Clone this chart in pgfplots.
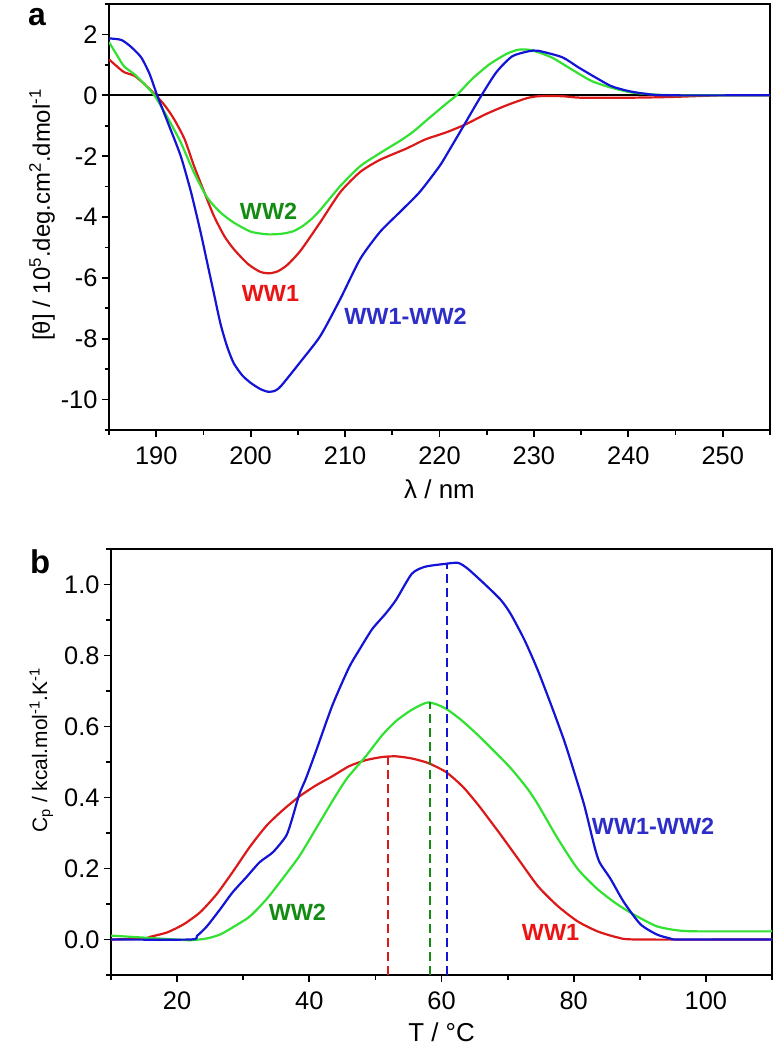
\documentclass[border=0pt]{standalone}
\usepackage{fontspec}
\setmainfont{Liberation Sans}
\usepackage{pgfplots}
\pgfplotsset{compat=1.18}
\definecolor{cgreen}{RGB}{50,225,50}
\definecolor{cred}{RGB}{220,25,25}
\definecolor{cblue}{RGB}{20,20,215}
\definecolor{lgreen}{RGB}{20,140,20}
\definecolor{lred}{RGB}{235,20,20}
\definecolor{lblue}{RGB}{45,45,200}
\tikzset{lab/.style={font=\bfseries\fontsize{23.5}{26}\selectfont}}
\begin{document}
\begin{tikzpicture}
\useasboundingbox (0bp,0bp) rectangle (784bp,-1050bp);
\pgfplotsset{
  every axis/.append style={
    scale only axis, width=661bp, height=426bp,
    axis line style={line width=2.6bp},
    tick style={line width=1.8bp, black},
    tick align=outside, tick pos=left,
    major tick length=7bp, minor tick length=4.5bp,
    tick label style={font=\fontsize{25.5}{28}\selectfont},
    xticklabel style={yshift=-6bp},
    yticklabel style={xshift=-1bp},
    /pgf/number format/assume math mode=true,
    label style={font=\fontsize{26}{30}\selectfont},
  },
  curve/.style={line width=2.2bp, no marks, smooth, tension=0.4},
}
% ---------- panel a ----------
\begin{axis}[at={(109bp,-430bp)}, anchor=south west,
  xmin=185, xmax=255, ymin=-11, ymax=3,
  xtick={190,200,...,250}, minor xtick={185,195,...,255},
  ytick={-10,-8,...,2}, minor ytick={-11,-9,...,3},
  xlabel={λ / nm},
  xlabel style={at={(axis description cs:0.5,-0.138)}, anchor=center},
  ylabel={[θ] / 10\textsuperscript{5}.deg.cm\textsuperscript{2}.dmol\textsuperscript{-1}},
  ylabel style={at={(axis description cs:-0.0893,0.505)}, anchor=base, font=\fontsize{24}{28}\selectfont},
]
\addplot[black, line width=2bp] coordinates {(185,0) (255,0)};
% WW1 (red)
\addplot[curve, cred] coordinates {
(185,1.18) (185.8,0.96) (186.6,0.76) (187.7,0.64) (188.7,0.38) (189.8,0.05)
(190.9,-0.33) (191.9,-0.79) (193.0,-1.44) (194.0,-2.32) (195.1,-3.19) (196.1,-3.96)
(197.2,-4.62) (198.2,-5.05) (199.7,-5.54) (201.0,-5.8) (202.0,-5.85) (202.9,-5.78)
(203.9,-5.57) (205.3,-5.1) (207.4,-4.16) (209.5,-3.18) (211.6,-2.52) (213.7,-2.12)
(216.5,-1.75) (218.5,-1.45) (220.7,-1.22) (222.8,-0.95) (224.9,-0.62) (227.1,-0.33)
(229.2,-0.1) (230.5,-0.03) (233,-0.03) (235,-0.08) (240,-0.08) (244,-0.06) (247,-0.03) (250,0) (255,0)};
% WW2 (green)
\addplot[curve, cgreen] coordinates {
(185,1.75) (185.8,1.34) (186.6,0.95) (187.7,0.69) (188.7,0.38) (189.8,0.0)
(191.2,-0.73) (192.6,-1.55) (194.0,-2.54) (195.4,-3.36) (196.8,-3.85) (198.2,-4.18)
(200.0,-4.48) (201.8,-4.57) (203.3,-4.55) (204.5,-4.47) (205.5,-4.3) (206.5,-4.05)
(207.4,-3.76) (209.5,-2.98)
(211.6,-2.33) (213.7,-1.9) (215.8,-1.5) (217.2,-1.2) (218.9,-0.75) (220.7,-0.28)
(221.8,0.0) (223.5,0.55) (225.3,1.02) (227.1,1.36) (228.4,1.5) (229.8,1.48)
(231.9,1.24) (234.0,0.85) (236.1,0.47) (238.2,0.25) (240.4,0.09) (243,0.02) (246,0) (255,0)};
% WW1-WW2 (blue)
\addplot[curve, cblue] coordinates {
(185,1.87) (186.3,1.82) (187.3,1.6) (188.4,1.25) (189.3,0.7) (190.1,0.0)
(191.3,-0.95) (192.6,-2.0) (193.7,-3.2) (194.7,-4.5) (195.4,-5.5) (196.1,-6.5)
(196.8,-7.5) (197.5,-8.25) (198.2,-8.8) (199.1,-9.2) (200.0,-9.45) (201.0,-9.65)
(201.8,-9.74) (202.5,-9.72) (203.2,-9.56) (205.3,-8.75) (207.4,-7.9) (209.5,-6.69)
(211.6,-5.38) (213.7,-4.49) (215.8,-3.84) (217.9,-3.18) (220.0,-2.33) (221.1,-1.77)
(222.6,-0.98) (224.2,-0.13) (226.0,0.75) (227.7,1.28) (229.5,1.45) (230.5,1.46)
(233,1.25) (234.7,0.92) (236.5,0.59) (238.2,0.3) (240,0.14) (241.8,0.05) (244,0) (255,0)};
\node[lab, text=lgreen] at (axis cs:201.9,-3.8) {WW2};
\node[lab, text=lred] at (axis cs:202.1,-6.52) {WW1};
\node[lab, text=lblue] at (axis cs:216.4,-7.28) {WW1-WW2};
\end{axis}
% ---------- panel b ----------
\begin{axis}[at={(111bp,-975bp)}, anchor=south west,
  xmin=10, xmax=110, ymin=-0.1, ymax=1.1,
  xtick={20,40,...,100}, minor xtick={10,30,...,110},
  ytick={0,0.2,...,1.0}, minor ytick={-0.1,0.1,...,1.1},
  yticklabel style={/pgf/number format/.cd, fixed, fixed zerofill, precision=1},
  xlabel={T / °C},
  xlabel style={at={(axis description cs:0.5,-0.134)}, anchor=center},
  ylabel={C\textsubscript{p} / kcal.mol\textsuperscript{-1}.K\textsuperscript{-1}},
  ylabel style={at={(axis description cs:-0.0968,0.528)}, anchor=base, font=\fontsize{21}{25}\selectfont},
]
% WW1 red
\addplot[curve, cred] coordinates {
(10,0) (15,0.003) (16,0.008) (18.5,0.02) (21,0.043) (23.5,0.077) (26,0.128)
(28.4,0.19) (31,0.261) (33.5,0.32) (35.9,0.363) (38.5,0.403) (41,0.434) (43.5,0.46)
(46,0.488) (48.5,0.505) (51,0.514) (53.1,0.516) (55.5,0.51) (58,0.497) (60.5,0.474)
(62.1,0.45) (63.5,0.425) (65.6,0.378) (68.6,0.304) (71.6,0.227) (74.6,0.15)
(77.6,0.094) (80.6,0.051) (83.6,0.023) (86.6,0.006) (89.6,0) (110,0)};
% WW2 green
\addplot[curve, cgreen] coordinates {
(10,0.011) (14.4,0.006) (18,0.002) (22,-0.002) (24.5,0.003) (26.5,0.014)
(28.4,0.034) (31,0.065) (33.5,0.113) (35.9,0.17) (38.5,0.235) (41,0.312)
(43.5,0.39) (45.7,0.454) (48.5,0.515) (51,0.575) (53.1,0.615) (55.5,0.647)
(58,0.668) (60.5,0.652) (63,0.618) (65.5,0.576) (68,0.53) (70.5,0.482) (73,0.425)
(74.6,0.38) (77.6,0.284) (80.6,0.199) (83.6,0.142) (86.6,0.099) (89.6,0.065)
(92.6,0.037) (95.6,0.026) (98.6,0.023) (110,0.023)};
% WW1-WW2 blue
\addplot[curve, cblue] coordinates {
(10,0) (22,0) (23,0.01) (24.5,0.037) (26.5,0.085) (28.4,0.133) (30.5,0.176)
(32.5,0.218) (34.5,0.246) (36.5,0.292) (37.4,0.34) (38.5,0.41) (39.5,0.454)
(41,0.53) (43.5,0.66) (46,0.766) (47.5,0.814) (49.5,0.874) (51.5,0.917)
(53.1,0.956) (55.5,1.03) (57.5,1.05) (60.5,1.058) (62.5,1.061) (64,1.044)
(66.6,1.0) (69,0.956) (70.5,0.916) (72.6,0.842) (74.6,0.757) (76.6,0.66)
(78.6,0.558) (80.1,0.47) (81.6,0.378) (83.1,0.265) (83.9,0.218) (85.6,0.17)
(87.6,0.105) (90.1,0.043) (92.6,0.014) (94.6,0.003) (96,0) (110,0)};
\addplot[cred, line width=2bp, dash pattern=on 9bp off 5bp] coordinates {(51.9,-0.1) (51.9,0.515)};
\addplot[lgreen, line width=2bp, dash pattern=on 9bp off 5bp] coordinates {(58.2,-0.1) (58.2,0.668)};
\addplot[cblue, line width=2bp, dash pattern=on 9bp off 5bp] coordinates {(60.9,-0.1) (60.9,1.06)};
\node[lab, text=lgreen] at (axis cs:38.2,0.077) {WW2};
\node[lab, text=lred] at (axis cs:76.5,0.02) {WW1};
\node[lab, text=lblue] at (axis cs:92.0,0.318) {WW1-WW2};
\end{axis}
\node[font=\bfseries\fontsize{32}{36}\selectfont, anchor=base west, inner sep=0pt] at (28bp,-25bp) {a};
\node[font=\bfseries\fontsize{33}{36}\selectfont, anchor=base west, inner sep=0pt] at (30bp,-573bp) {b};
\end{tikzpicture}
\end{document}
